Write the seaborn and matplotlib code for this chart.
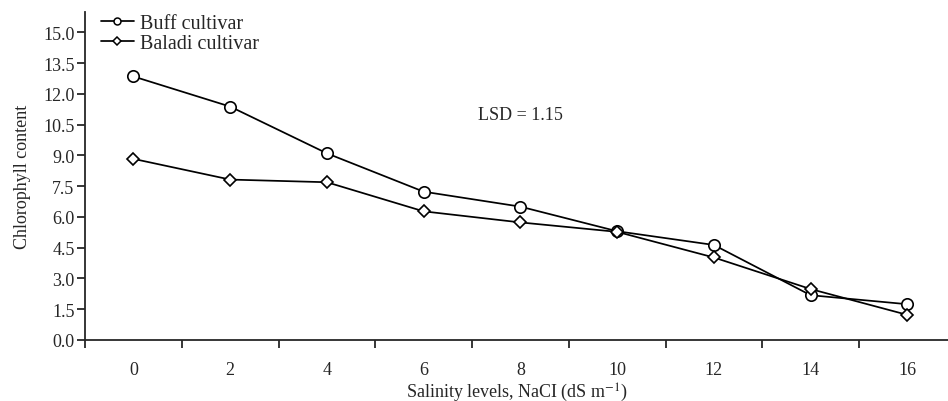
import numpy as np
import pandas as pd
import seaborn as sns
import matplotlib.pyplot as plt
from matplotlib.ticker import FixedLocator

# Data
levels = ['0', '2', '4', '6', '8', '10', '12', '14', '16']
buff = [12.85, 11.38, 9.10, 7.23, 6.50, 5.30, 4.63, 2.18, 1.74]
baladi = [8.83, 7.82, 7.69, 6.27, 5.73, 5.27, 4.02, 2.48, 1.22]
y_ticks = [0.0, 1.5, 3.0, 4.5, 6.0, 7.5, 9.0, 10.5, 12.0, 13.5, 15.0]


def main():
    sns.set_style('ticks')
    plt.rcParams['font.family'] = ['Liberation Serif', 'DejaVu Serif']
    plt.rcParams['mathtext.fontset'] = 'stix'

    df = pd.DataFrame({
        'level': levels * 2,
        'value': buff + baladi,
        'cultivar': ['Buff cultivar'] * len(levels) + ['Baladi cultivar'] * len(levels),
    })

    fig = plt.figure(figsize=(9.48, 4.02), dpi=100)
    ax = fig.add_axes([0.0897, 0.152, 0.9103, 0.816])

    sns.lineplot(data=df, x='level', y='value', hue='cultivar', style='cultivar',
                 palette={'Buff cultivar': 'black', 'Baladi cultivar': 'black'},
                 markers={'Buff cultivar': 'o', 'Baladi cultivar': 'D'},
                 dashes=False, sort=False, linewidth=1.25, ax=ax, legend=False)

    # marker styling: white fill, black edge, sizes per series
    for line, ms in zip(ax.lines, [8.2, 6.6]):
        line.set_markerfacecolor('white')
        line.set_markeredgecolor('black')
        line.set_markeredgewidth(1.2)
        line.set_markersize(ms)

    handles = []
    for marker, ms, label in [('o', 5.0, 'Buff cultivar'), ('D', 4.0, 'Baladi cultivar')]:
        h, = ax.plot([], [], color='black', lw=1.25, marker=marker, ms=ms,
                     mfc='white', mec='black', mew=1.1, label=label)
        handles.append(h)
    ax.legend(handles=handles, loc='upper left', bbox_to_anchor=(0.009, 1.018),
              frameon=False, fontsize=14.5, handlelength=1.65, handletextpad=0.3,
              labelspacing=0.05, borderaxespad=0.0)

    ax.set_ylim(0, 16.0)
    ax.set_xlim(-0.5, 8.42)
    ax.set_yticks(y_ticks)
    ax.set_yticklabels(['%.1f' % t for t in y_ticks])
    ax.set_xticks(range(len(levels)))
    ax.set_xticklabels(levels)
    ax.xaxis.set_minor_locator(FixedLocator(np.arange(-0.5, 9, 1.0)))
    ax.tick_params(axis='x', which='major', length=0, pad=15, labelsize=13)
    ax.tick_params(axis='x', which='minor', length=6, width=1.3, direction='out')
    ax.tick_params(axis='y', which='major', length=5.5, width=1.3, direction='out', labelsize=13, pad=2)

    for side in ['top', 'right']:
        ax.spines[side].set_visible(False)
    ax.spines['left'].set_linewidth(1.3)
    ax.spines['bottom'].set_linewidth(1.3)

    ax.text(4.0, 11.0, 'LSD = 1.15', ha='center', va='center', fontsize=13)
    ax.set_xlabel('Salinity levels, NaCI (dS m$^{-1}$)', fontsize=13, labelpad=2)
    ax.set_ylabel('Chlorophyll content', fontsize=13, labelpad=9)

    fig.savefig('out.png', dpi=100)


if __name__ == '__main__':
    main()
